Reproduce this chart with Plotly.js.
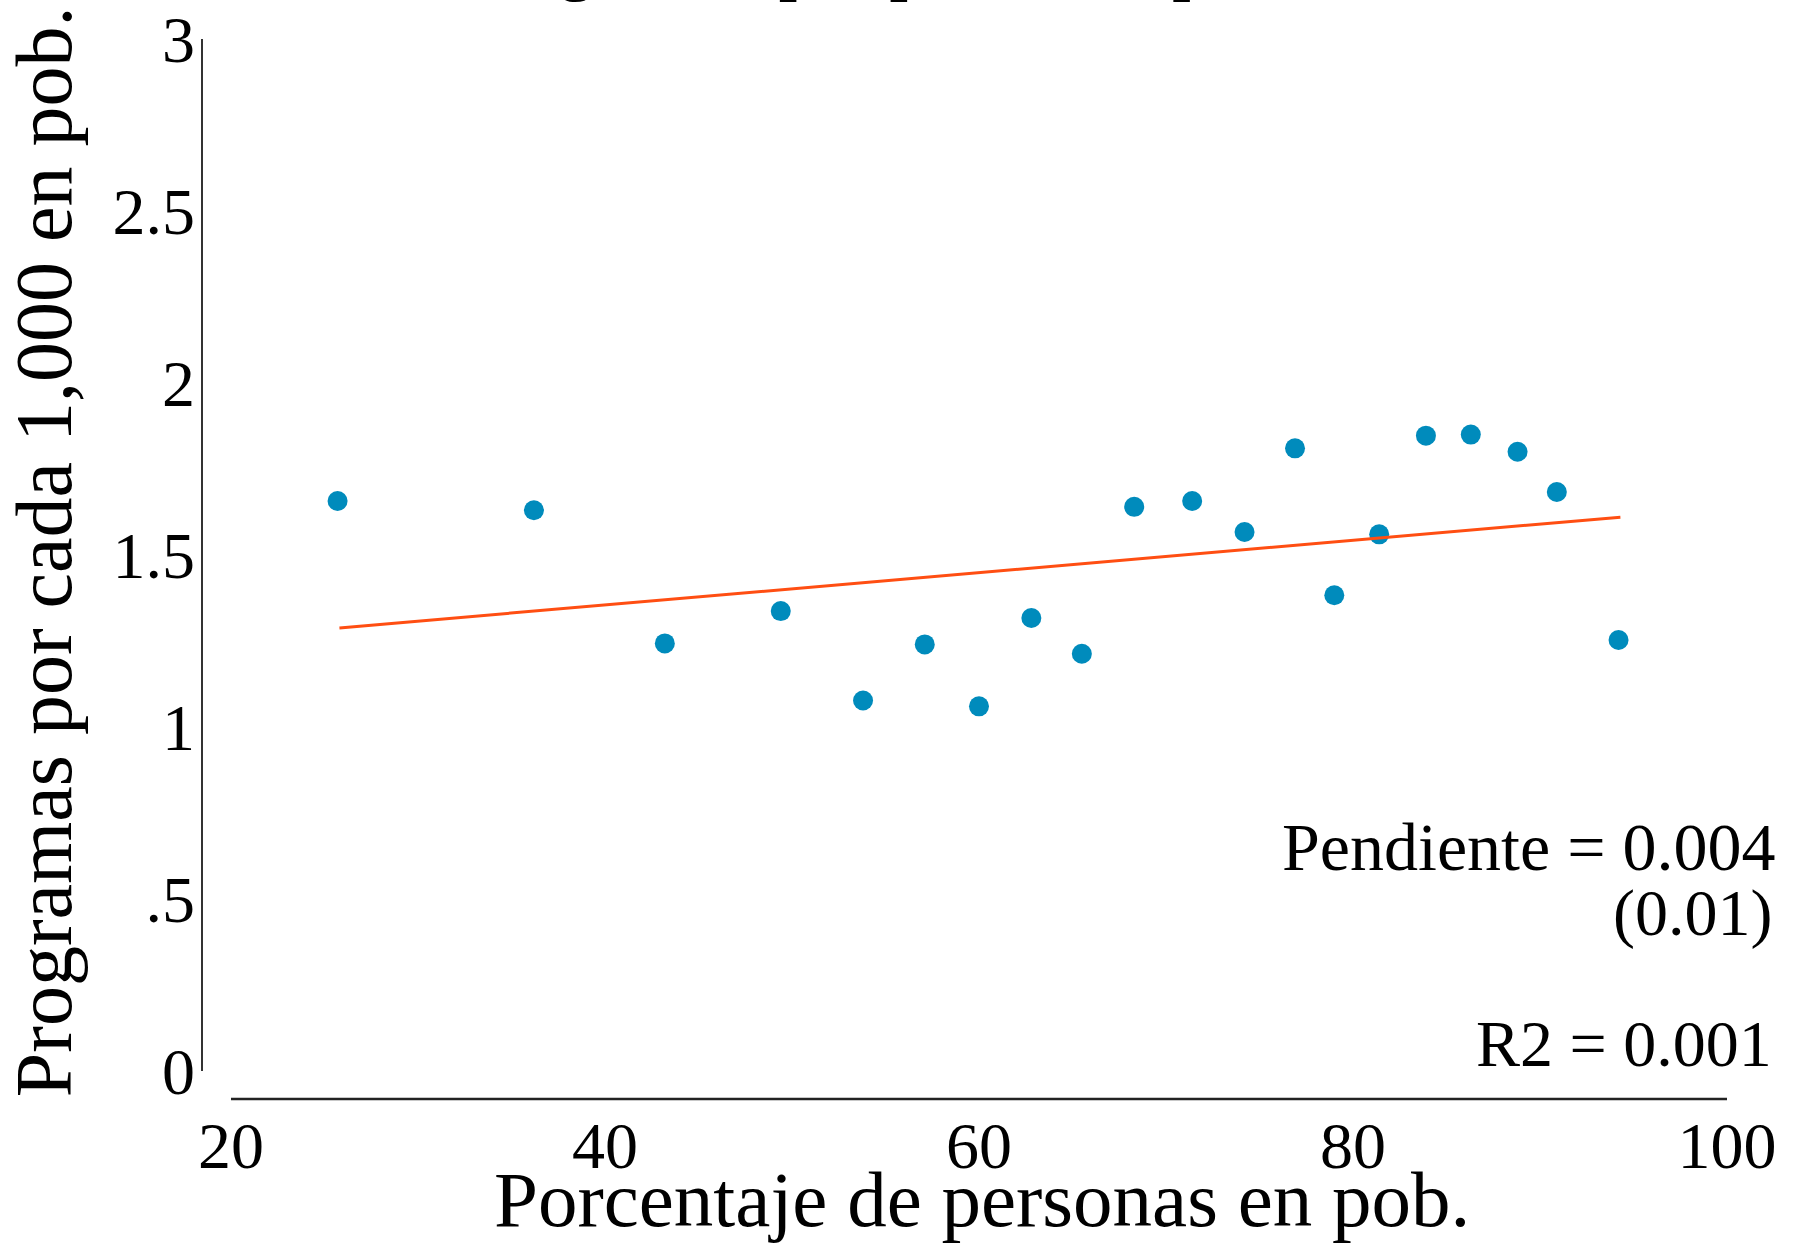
<!DOCTYPE html>
<html>
<head>
<meta charset="utf-8">
<script src="https://cdn.plot.ly/plotly-3.0.1.min.js"></script>
<style>html,body{margin:0;padding:0;background:#fff;}#chart{width:1796px;height:1243px;}</style>
</head>
<body>
<div id="chart"></div>
<script>
// ---- data ----
var pctPersonas = [25.7, 36.2, 43.2, 49.4, 53.8, 57.1, 60.0, 62.8, 65.5, 68.3,
                   71.4, 74.2, 76.9, 79.0, 81.4, 83.9, 86.3, 88.8, 90.9, 94.2];
var programas   = [1.657, 1.630, 1.243, 1.337, 1.077, 1.240, 1.060, 1.317, 1.213, 1.640,
                   1.657, 1.567, 1.810, 1.383, 1.560, 1.847, 1.850, 1.800, 1.683, 1.253];
var fitX = [25.8, 94.3];
var fitY = [1.288, 1.610];
var yTickVals = [0, 0.5, 1, 1.5, 2, 2.5, 3];
var yTickText = ['0', '.5', '1', '1.5', '2', '2.5', '3'];
var xTickVals = [20, 40, 60, 80, 100];
var xTickText = ['20', '40', '60', '80', '100'];
var titleText = 'Programas por población por entidad';
var xTitle = 'Porcentaje de personas en pob.';
var yTitle = 'Programas por cada 1,000 en pob.';
var statLines = ['Pendiente = 0.004', '(0.01)', 'R2 = 0.001'];

var FONT = 'Liberation Serif, Times New Roman, serif';

var traces = [
  {
    x: pctPersonas, y: programas, type: 'scatter', mode: 'markers',
    marker: {color: '#008BBC', size: 20, line: {width: 0}},
    hoverinfo: 'skip', showlegend: false
  },
  {
    x: fitX, y: fitY, type: 'scatter', mode: 'lines',
    line: {color: '#FF4E12', width: 3},
    hoverinfo: 'skip', showlegend: false
  }
];

var layout = {
  width: 1796, height: 1243,
  paper_bgcolor: '#ffffff', plot_bgcolor: '#ffffff',
  margin: {l: 202, r: 69, t: 39, b: 144, pad: 0},
  font: {family: FONT, color: '#000000', size: 65},
  showlegend: false,
  xaxis: {
    range: [18.45, 100], showgrid: false, zeroline: false, showline: false,
    ticks: '', tickmode: 'array', tickvals: xTickVals, ticktext: xTickText,
    tickfont: {family: FONT, size: 66, color: '#000'}, ticklabelstandoff: 2
  },
  yaxis: {
    range: [-0.0814, 3], showgrid: false, zeroline: false, showline: false,
    ticks: '', tickmode: 'array', tickvals: yTickVals, ticktext: yTickText,
    tickfont: {family: FONT, size: 66, color: '#000'}, ticklabelstandoff: 6
  },
  shapes: [
    {type: 'line', xref: 'paper', yref: 'y', x0: 0, x1: 0, y0: 0, y1: 3.01,
     line: {color: '#333333', width: 2}},
    {type: 'line', xref: 'x', yref: 'paper', x0: 20, x1: 100, y0: 0, y1: 0,
     line: {color: '#222222', width: 2.5}}
  ],
  annotations: [
    {text: '<b>' + titleText + '</b>', xref: 'paper', yref: 'paper', x: 0.169, y: 1.0682,
     xanchor: 'left', yanchor: 'middle', showarrow: false,
     font: {family: FONT, size: 64, color: '#000'}},
    {text: xTitle, xref: 'paper', yref: 'paper', x: (982 - 202) / 1525, y: -0.0945,
     xanchor: 'center', yanchor: 'middle', showarrow: false,
     font: {family: FONT, size: 79, color: '#000'}},
    {text: yTitle, xref: 'paper', yref: 'paper', x: -0.1035, y: 0.516, textangle: -90,
     xanchor: 'center', yanchor: 'middle', showarrow: false,
     font: {family: FONT, size: 80, color: '#000'}},
    {text: statLines[0], xref: 'paper', yref: 'paper', x: (1778 - 202) / 1525, y: 0.2377,
     xanchor: 'right', yanchor: 'middle', showarrow: false,
     font: {family: FONT, size: 68, color: '#000'}},
    {text: statLines[1], xref: 'paper', yref: 'paper', x: (1774 - 202) / 1525, y: 0.1755,
     xanchor: 'right', yanchor: 'middle', showarrow: false,
     font: {family: FONT, size: 66, color: '#000'}},
    {text: statLines[2], xref: 'paper', yref: 'paper', x: (1774 - 202) / 1525, y: 0.0528,
     xanchor: 'right', yanchor: 'middle', showarrow: false,
     font: {family: FONT, size: 66, color: '#000'}}
  ]
};

Plotly.newPlot('chart', traces, layout, {staticPlot: true, displayModeBar: false});
</script>
</body>
</html>
